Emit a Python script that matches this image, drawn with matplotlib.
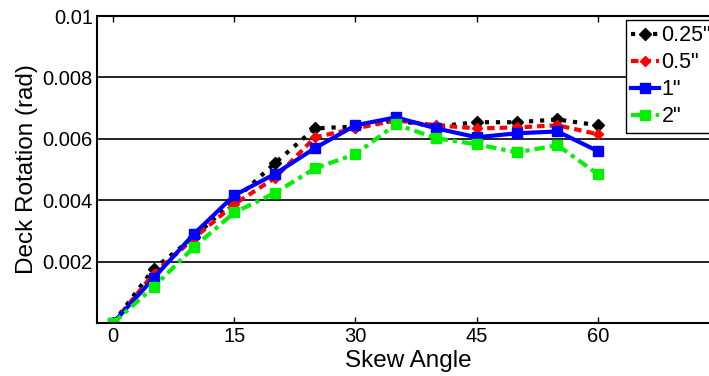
import numpy as np
import matplotlib
matplotlib.use('Agg')
import matplotlib.pyplot as plt

# --- data ---
skew = [0, 5, 10, 15, 20, 25, 30, 35, 40, 45, 50, 55, 60]
rot_025 = [0, 0.00176, 0.0028, 0.0040, 0.0052, 0.00634, 0.0064, 0.0066, 0.0064,
           0.00654, 0.00654, 0.00663, 0.00644]
rot_05 = [0, 0.0016, 0.00276, 0.00387, 0.00472, 0.00605, 0.00634, 0.0066, 0.00644,
          0.00634, 0.00637, 0.00644, 0.00615]
rot_1 = [0, 0.00146, 0.0029, 0.00416, 0.00485, 0.0057, 0.00644, 0.0067, 0.00634,
         0.00605, 0.00618, 0.00624, 0.0056]
rot_2 = [0, 0.00117, 0.00247, 0.0036, 0.00423, 0.00504, 0.0055, 0.00647, 0.00602,
         0.00582, 0.00556, 0.00579, 0.00485]
labels = ['0.25"', '0.5"', '1"', '2"']
xticks = [0, 15, 30, 45, 60]
yticks = [0.002, 0.004, 0.006, 0.008, 0.01]
ytick_labels = ['0.002', '0.004', '0.006', '0.008', '0.01']

plt.rcParams['font.family'] = ['Liberation Sans', 'DejaVu Sans']

W, H = 709, 376
fig = plt.figure(figsize=(W / 100, H / 100), dpi=100)
# axes run a little past the right edge, like the cropped original
ax = fig.add_axes([97 / W, (H - 323) / H, (719 - 97) / W, (323 - 16) / H])

ax.plot(skew, rot_025, color='black', linestyle=':', linewidth=3,
        marker='D', markersize=6, label=labels[0])
ax.plot(skew, rot_05, color='red', linestyle=(0, (1.8, 1.2)), linewidth=3,
        marker='D', markersize=5, label=labels[1])
ax.plot(skew, rot_1, color='blue', linestyle='-', linewidth=3,
        marker='s', markersize=7, label=labels[2])
ax.plot(skew, rot_2, color='#00f000', linestyle=(0, (2.5, 1.2, 1, 1.2)), linewidth=3,
        marker='s', markersize=7, label=labels[3])

ax.set_xlim(-2, 75)
ax.set_ylim(0, 0.01)
ax.set_xticks(xticks)
ax.set_yticks(yticks)
ax.set_yticklabels(ytick_labels)
for yv in yticks[:-1]:
    ax.axhline(yv, color='black', linewidth=1.2, zorder=0)

ax.tick_params(axis='both', labelsize=14.5, direction='in', length=4, width=1)
ax.tick_params(axis='x', top=True, pad=3)
ax.tick_params(axis='y', right=False, length=0, pad=3)
for sp in ax.spines.values():
    sp.set_linewidth(1.5)

ax.set_xlabel('Skew Angle', fontsize=17.5, labelpad=3)
ax.set_ylabel('Deck Rotation (rad)', fontsize=17.5, labelpad=3)

leg = ax.legend(loc='upper left', bbox_to_anchor=(626 / W, 1 - 20 / H),
                bbox_transform=fig.transFigure, fontsize=15.5, fancybox=False,
                framealpha=1, edgecolor='black', handlelength=1.3,
                handletextpad=0.1, borderpad=0.25, labelspacing=0.28,
                borderaxespad=0)
leg.get_frame().set_linewidth(1.0)

fig.savefig('out.png', dpi=100)
